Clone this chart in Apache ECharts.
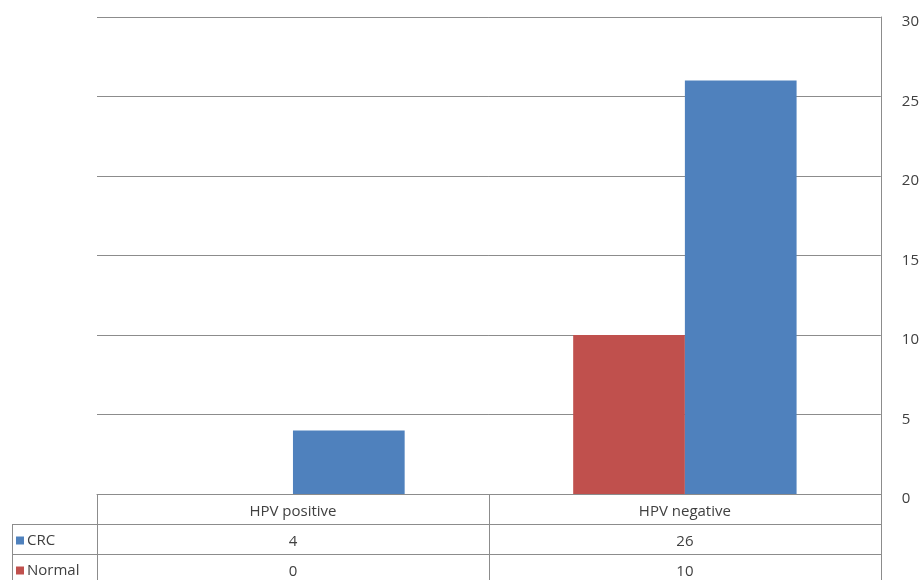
<!DOCTYPE html>
<html>
<head>
<meta charset="utf-8">
<script src="https://cdn.jsdelivr.net/npm/echarts@6/dist/echarts.min.js"></script>
<style>
  html, body { margin: 0; padding: 0; background: #ffffff; }
  #chart { width: 922px; height: 580px; }
</style>
</head>
<body>
<div id="chart"></div>
<script>
// ---- data ----
const categories = ['HPV positive', 'HPV negative'];
const crcValues = [4, 26];
const normalValues = [0, 10];
const yTicks = [0, 5, 10, 15, 20, 25, 30];

// ---- layout constants ----
const W = 922, H = 580;
const gridLeft = 97, gridRight = 40, gridTop = 17, gridBottom = 86;
const tableLeft = 12;
const rowH = 30;
const lineColor = '#8c8c8c';
const textColor = '#404040';
const fontFamily = '"Open Sans", Lato, sans-serif';
const fs = 15;

const chart = echarts.init(document.getElementById('chart'), null, { renderer: 'canvas' });

const axisY = H - gridBottom;
const plotRight = W - gridRight;

const option = {
  animation: false,
  backgroundColor: '#ffffff',
  textStyle: { fontFamily: fontFamily },
  grid: { left: gridLeft, right: gridRight, top: gridTop, bottom: gridBottom, containLabel: false },
  legend: {
    data: ['CRC', 'Normal'],
    orient: 'vertical',
    left: 16,
    top: axisY + rowH + 8,
    itemWidth: 8,
    itemHeight: 8,
    itemGap: 13,
    icon: 'rect',
    selectedMode: false,
    padding: 0,
    textStyle: { fontSize: fs, color: textColor, fontFamily: fontFamily, padding: [0, 0, 0, -2], lineHeight: 17 }
  },
  xAxis: {
    type: 'category',
    data: categories,
    axisLine: { show: true, lineStyle: { color: lineColor, width: 1 } },
    axisTick: { show: true, interval: 0, length: gridBottom, lineStyle: { color: lineColor, width: 1 } },
    splitLine: { show: false },
    axisLabel: {
      interval: 0,
      margin: 3,
      color: textColor,
      fontSize: fs,
      fontFamily: fontFamily,
      formatter: function (value, index) {
        return '{h|' + value + '}\n{v|' + crcValues[index] + '}\n{v|' + normalValues[index] + '}';
      },
      rich: {
        h: { lineHeight: rowH, fontSize: fs, color: textColor, fontFamily: fontFamily },
        v: { lineHeight: rowH, fontSize: fs, color: textColor, fontFamily: fontFamily }
      }
    }
  },
  yAxis: {
    type: 'value',
    position: 'right',
    min: yTicks[0],
    max: yTicks[yTicks.length - 1],
    interval: yTicks[1] - yTicks[0],
    axisLine: { show: true, lineStyle: { color: lineColor, width: 1 } },
    axisTick: { show: false },
    splitLine: { show: true, lineStyle: { color: lineColor, width: 1 } },
    axisLabel: {
      margin: 21, color: textColor, fontSize: fs, fontFamily: fontFamily, align: 'left',
      formatter: function (v) { return '{t|' + v + '}'; },
      rich: { t: { fontSize: fs, color: textColor, fontFamily: fontFamily, padding: [10, 0, 0, 0] } }
    }
  },
  series: [
    {
      name: 'Normal',
      type: 'bar',
      data: normalValues,
      barGap: '0%',
      barCategoryGap: '43%',
      itemStyle: { color: '#C0504D' }
    },
    {
      name: 'CRC',
      type: 'bar',
      data: crcValues,
      barGap: '0%',
      barCategoryGap: '43%',
      itemStyle: { color: '#4F81BD' }
    }
  ],
  graphic: [
    { type: 'line', silent: true, shape: { x1: tableLeft, y1: axisY + rowH + 0.5, x2: plotRight, y2: axisY + rowH + 0.5 }, style: { stroke: lineColor, lineWidth: 1 } },
    { type: 'line', silent: true, shape: { x1: tableLeft, y1: axisY + 2 * rowH + 0.5, x2: plotRight, y2: axisY + 2 * rowH + 0.5 }, style: { stroke: lineColor, lineWidth: 1 } },
    { type: 'line', silent: true, shape: { x1: tableLeft + 0.5, y1: axisY + rowH, x2: tableLeft + 0.5, y2: H }, style: { stroke: lineColor, lineWidth: 1 } }
  ]
};

chart.setOption(option);
</script>
</body>
</html>
